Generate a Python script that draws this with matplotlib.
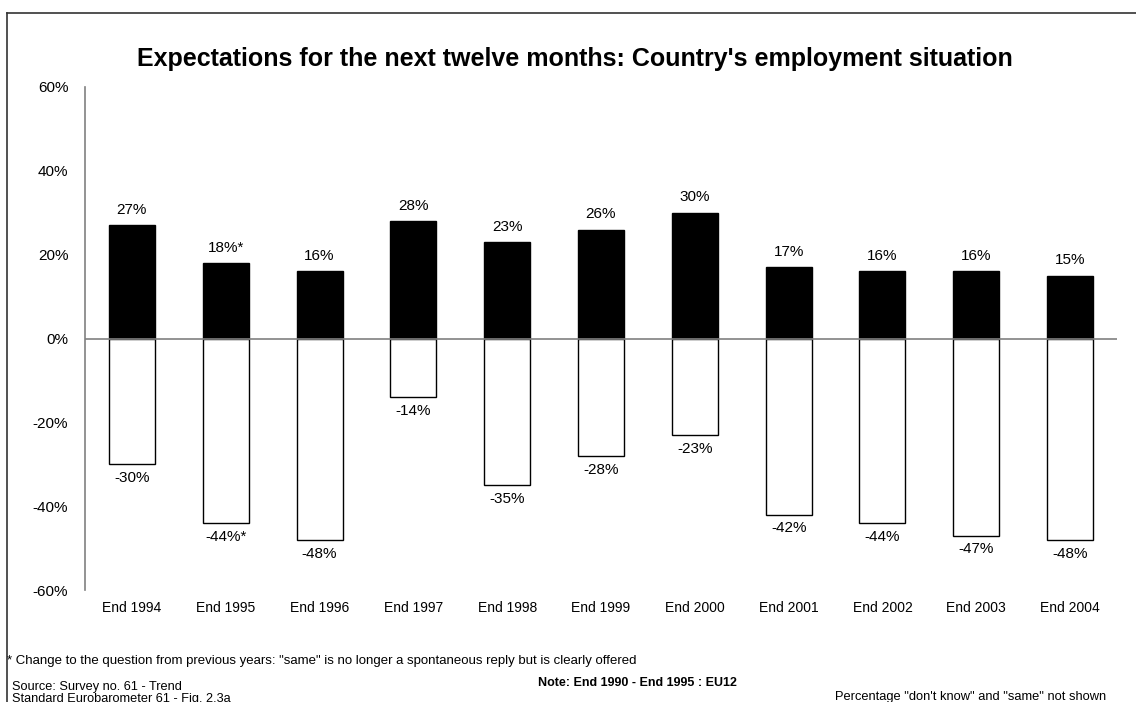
import numpy as np
import matplotlib.pyplot as plt
from matplotlib.lines import Line2D

plt.rcParams['font.family'] = ['Liberation Sans', 'DejaVu Sans']

# Survey results (percent)
periods = ['End 1994', 'End 1995', 'End 1996', 'End 1997', 'End 1998', 'End 1999',
           'End 2000', 'End 2001', 'End 2002', 'End 2003', 'End 2004']
better = [27, 18, 16, 28, 23, 26, 30, 17, 16, 16, 15]
worse = [-30, -44, -48, -14, -35, -28, -23, -42, -44, -47, -48]
better_labels = ['27%', '18%*', '16%', '28%', '23%', '26%', '30%', '17%', '16%', '16%', '15%']
worse_labels = ['-30%', '-44%*', '-48%', '-14%', '-35%', '-28%', '-23%', '-42%', '-44%', '-47%', '-48%']
yticks = [-60, -40, -20, 0, 20, 40, 60]

W, H = 1136, 702
fig = plt.figure(figsize=(W / 100, H / 100), dpi=100)
ax = fig.add_axes([85 / W, 1 - 590 / H, (1117 - 85) / W, (590 - 87) / H])

x = np.arange(len(periods))
ax.bar(x, better, width=0.49, color='black', edgecolor='black', linewidth=1, zorder=2)
ax.bar(x, worse, width=0.49, color='white', edgecolor='black', linewidth=1, zorder=2)

for xi, v, lab in zip(x, better, better_labels):
    ax.annotate(lab, (xi, v), xytext=(0, 6), textcoords='offset points',
                ha='center', va='bottom', fontsize=11)
for xi, v, lab in zip(x, worse, worse_labels):
    ax.annotate(lab, (xi, v), xytext=(0, -5), textcoords='offset points',
                ha='center', va='top', fontsize=11)

ax.axhline(0, color='#808080', linewidth=1.2, zorder=3)
ax.set_xlim(-0.5, len(periods) - 0.5)
ax.set_ylim(-60, 60)
ax.set_yticks(yticks)
ax.set_yticklabels([f'{t}%' for t in yticks])
ax.set_xticks(x)
ax.set_xticklabels(periods)
ax.tick_params(axis='both', length=0)
ax.tick_params(axis='y', pad=12, labelsize=11)
ax.tick_params(axis='x', pad=8, labelsize=10)
for s in ['top', 'right', 'bottom']:
    ax.spines[s].set_visible(False)
ax.spines['left'].set_color('#808080')
ax.spines['left'].set_linewidth(1.2)

fig.text(575 / W, 1 - 59 / H, "Expectations for the next twelve months: Country's employment situation",
         ha='center', va='center', fontsize=18, fontweight='bold')

fig.text(7 / W, 1 - 661 / H,
         '* Change to the question from previous years: "same" is no longer a spontaneous reply but is clearly offered',
         ha='left', va='center', fontsize=9.5)
fig.text(12 / W, 1 - 687 / H, 'Source: Survey no. 61 - Trend', ha='left', va='center', fontsize=9.2)
fig.text(12 / W, 1 - 699 / H, 'Standard Eurobarometer 61 - Fig. 2.3a', ha='left', va='center', fontsize=9.2)
fig.text(538 / W, 1 - 683 / H, 'Note: End 1990 - End 1995 : EU12', ha='left', va='center',
         fontsize=9, fontweight='bold')
fig.text(835 / W, 1 - 697 / H, 'Percentage "don\'t know" and "same" not shown', ha='left', va='center',
         fontsize=9.3)

# frame around the chart
fig.add_artist(Line2D([7 / W, 1.0], [1 - 13 / H] * 2, transform=fig.transFigure,
                      color='#333333', linewidth=1.2))
fig.add_artist(Line2D([7 / W] * 2, [0, 1 - 13 / H], transform=fig.transFigure,
                      color='#333333', linewidth=1.2))

fig.savefig('out.png', dpi=100)
